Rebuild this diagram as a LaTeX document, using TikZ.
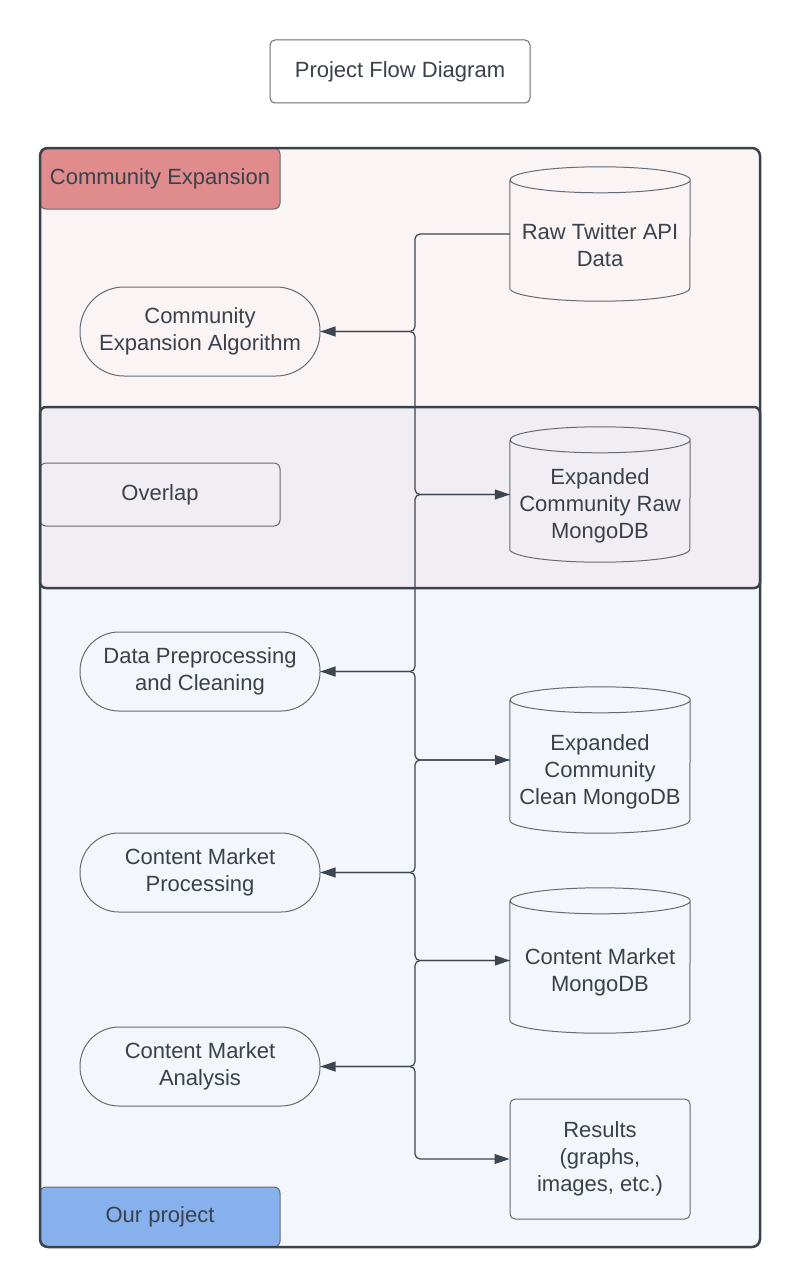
\documentclass[tikz,border=0pt]{standalone}
\usepackage{fontspec}
\setmainfont{Liberation Sans}
\usetikzlibrary{arrows.meta,calc}
\definecolor{txt}{HTML}{3A414A}
\definecolor{linkcol}{HTML}{3D4551}
\definecolor{shapecol}{HTML}{646B75}
\definecolor{framecol}{HTML}{3B424C}
\definecolor{pinkbg}{HTML}{FAF4F4}
\definecolor{overbg}{HTML}{F1EEF3}
\definecolor{bluebg}{HTML}{F3F6FB}
\definecolor{redhead}{HTML}{E08C8C}
\definecolor{bluehead}{HTML}{86B1EC}
\newcommand{\dbcyl}[1]{\draw[shapecol, line width=1pt] ([yshift=-13pt]#1.north west) -- ([yshift=13pt]#1.south west) arc[start angle=180,end angle=360,x radius=90pt,y radius=13pt] -- ([yshift=-13pt]#1.north east) arc[start angle=0,end angle=360,x radius=90pt,y radius=13pt];}
\begin{document}
\begin{tikzpicture}[x=1pt,y=-1pt,
  every node/.style={font=\fontsize{22}{27}\selectfont, text=txt, align=center, inner sep=0pt},
  box/.style={draw=shapecol, line width=1pt, rounded corners=5pt},
  hdr/.style={draw=shapecol, line width=1pt, rounded corners=6pt, minimum width=240pt},
  pill/.style={draw=shapecol, line width=1pt, minimum width=240pt},
  dbnode/.style={minimum width=180pt},
  link/.style={draw=linkcol, line width=1.2pt, rounded corners=5pt, -{Triangle[length=15pt,width=10pt]}},
]
\useasboundingbox (0,0) rectangle (800,1287);
% bands
\begin{scope}
\clip[rounded corners=8pt] (40,148) rectangle (760,1247);
\fill[bluebg] (40,148) rectangle (760,1247);
\fill[pinkbg] (40,148) rectangle (760,407);
\fill[overbg] (40,407) rectangle (760,588);
\end{scope}
% headers
\node[hdr, fill=redhead, minimum height=61pt] (hce) at (160,178.5) {Community Expansion};
\node[hdr, fill=overbg, minimum height=63pt] (hov) at (160,494.5) {Overlap};
\node[hdr, fill=bluehead, minimum height=60pt] (hop) at (160,1217) {Our project};
% frames
\draw[framecol, line width=2.5pt, rounded corners=8pt] (40,148) rectangle (760,1247);
\draw[framecol, line width=2.5pt, rounded corners=6pt] (40,407) rectangle (760,588);
% title
\node[box, minimum width=260pt, minimum height=63pt] (title) at (400,71.5) {Project Flow Diagram};
% pills
\node[pill, minimum height=89pt, rounded corners=44pt] (alg) at (200,331.5) {Community\\Expansion Algorithm};
\node[pill, minimum height=79pt, rounded corners=39pt] (dpc) at (200,671.5) {Data Preprocessing\\and Cleaning};
\node[pill, minimum height=79pt, rounded corners=39pt] (cmp) at (200,872.5) {Content Market\\Processing};
\node[pill, minimum height=79pt, rounded corners=39pt] (cma) at (200,1066.5) {Content Market\\Analysis};
% databases
\node[dbnode, minimum height=134pt] (raw) at (600,234) {};
\node[dbnode, minimum height=135pt] (ecr) at (600,494.5) {};
\node[dbnode, minimum height=146pt] (ecc) at (600,760) {};
\node[dbnode, minimum height=145pt] (cmm) at (600,960.5) {};
\dbcyl{raw}\dbcyl{ecr}\dbcyl{ecc}\dbcyl{cmm}
\node (rawtxt) at ($(raw.center)+(0,11)$) {Raw Twitter API\\Data};
\node (ecrtxt) at ($(ecr.center)+(0,11)$) {Expanded\\Community Raw\\MongoDB};
\node (ecctxt) at ($(ecc.center)+(0,12)$) {Expanded\\Community\\Clean MongoDB};
\node (cmmtxt) at ($(cmm.center)+(0,12)$) {Content Market\\MongoDB};
\node[box, minimum width=180pt, minimum height=120pt] (res) at (600,1159) {Results\\(graphs,\\images, etc.)};
% connectors
\coordinate (trunk) at (415,0);
\draw[link] (raw.west) -| (trunk |- alg.east) -- (alg.east);
\draw[link] (alg.east) -- (trunk |- alg.east) |- (ecr.west);
\draw[link] (ecr.west) -- (trunk |- ecr.west) |- (dpc.east);
\draw[link] (dpc.east) -- (trunk |- dpc.east) |- (ecc.west);
\draw[link] (ecc.west) -- (trunk |- ecc.west) |- (cmp.east);
\draw[link] (cmp.east) -- (trunk |- cmp.east) |- (cmm.west);
\draw[link] (cmm.west) -- (trunk |- cmm.west) |- (cma.east);
\draw[link] (cma.east) -- (trunk |- cma.east) |- (res.west);
\end{tikzpicture}
\end{document}
